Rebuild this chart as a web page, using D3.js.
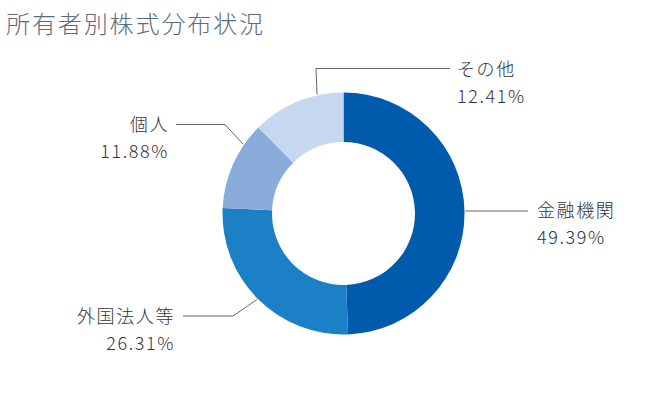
<!DOCTYPE html>
<html>
<head>
<meta charset="utf-8">
<script src="https://cdn.jsdelivr.net/npm/d3@7"></script>
<style>
  body { margin: 0; background: #fff; }
  text { font-family: "Noto Sans CJK JP", "Noto Sans", sans-serif; font-weight: 300; }
</style>
</head>
<body>
<div id="chart-area"></div>
<script>
const WIDTH = 650;
const HEIGHT = 410;

// data
const categories = ['金融機関', '外国法人等', '個人', 'その他'];
const shares = [49.39, 26.31, 11.88, 12.41];
const sliceColors = ['#005bac', '#1b80c6', '#8aacdb', '#c6d8ef'];

const CENTER = { x: 343.5, y: 213.5 };
const OUTER = 121;
const INNER = 71.5;

// label layout: where on the slice the leader starts, its bend, and the text spot
const labelLayout = [
  { frac: 0.5,  bend: null,                 end: { x: 528, y: 211 },   tx: 537, anchor: 'start', ty: 217 },
  { frac: 0.5,  bend: { x: 233, y: 316 },   end: { x: 183, y: 316 },   tx: 175, anchor: 'end',   ty: 322.5 },
  { frac: 0.75, bend: { x: 225, y: 124.5 }, end: { x: 176, y: 124.5 }, tx: 169, anchor: 'end',   ty: 131 },
  { frac: 0.72, bend: { x: 316, y: 68.5 },  end: { x: 450, y: 68.5 },  tx: 457, anchor: 'start', ty: 75.5 }
];

const svg = d3.select('#chart-area')
  .append('svg')
  .attr('width', WIDTH)
  .attr('height', HEIGHT);

// title
svg.append('text')
  .attr('x', 6)
  .attr('y', 33)
  .attr('font-size', '24px')
  .attr('letter-spacing', '1.9px')
  .attr('fill', '#5b6b80')
  .text('所有者別株式分布状況');

const g = svg.append('g')
  .attr('transform', `translate(${CENTER.x}, ${CENTER.y})`);

const pie = d3.pie().sort(null).value(d => d)
  .startAngle(0).endAngle(2 * Math.PI);
const arcs = pie(shares);

const arc = d3.arc().innerRadius(INNER).outerRadius(OUTER);

g.selectAll('path.slice')
  .data(arcs)
  .enter().append('path')
  .attr('class', 'slice')
  .attr('d', arc)
  .attr('fill', (d, i) => sliceColors[i]);

// leaders + labels
arcs.forEach((d, i) => {
  const L = labelLayout[i];
  const a = d.startAngle + (d.endAngle - d.startAngle) * L.frac;
  const r = OUTER + 1;
  const start = [CENTER.x + r * Math.sin(a), CENTER.y - r * Math.cos(a)];
  if (i === 0) start[1] = L.end.y;
  const pts = [start];
  if (L.bend) pts.push([L.bend.x, L.bend.y]);
  pts.push([L.end.x, L.end.y]);

  svg.append('path')
    .attr('d', d3.line()(pts))
    .attr('fill', 'none')
    .attr('stroke', '#666')
    .attr('stroke-width', 1);

  svg.append('text')
    .attr('x', L.tx)
    .attr('y', L.ty)
    .attr('text-anchor', L.anchor)
    .attr('font-size', '18px')
    .attr('letter-spacing', '1.6px')
    .attr('fill', '#333')
    .text(categories[i]);

  svg.append('text')
    .attr('x', L.tx)
    .attr('y', L.ty + 27)
    .attr('text-anchor', L.anchor)
    .attr('font-size', '18px')
    .attr('letter-spacing', '1.6px')
    .attr('fill', '#333')
    .text(d3.format('.2f')(shares[i]) + '%');
});
</script>
</body>
</html>
